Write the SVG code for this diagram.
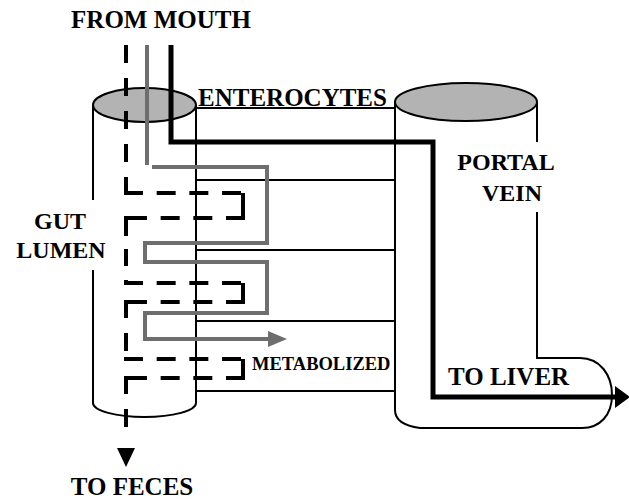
<svg xmlns="http://www.w3.org/2000/svg" width="629" height="499" viewBox="0 0 629 499">
<style>
  .wall { fill: none; stroke: #000; stroke-width: 2; }
  .cap { fill: #b3b3b3; stroke: #000; stroke-width: 2; }
  .lbl { font-family: "Liberation Serif", "Times New Roman", serif; font-weight: bold; fill: #000; }
  .dash { fill: none; stroke: #000; stroke-width: 4; }
  .dv { stroke-dasharray: 18 15; }
  .dh { stroke-dasharray: 19 13.67; }
  .gray { fill: none; stroke: #6e6e6e; stroke-width: 4; }
  .thick { fill: none; stroke: #000; stroke-width: 5; }
</style>
<rect width="629" height="499" fill="#fff"/>

<g id="gut-lumen">
  <path class="wall" d="M93,105 V200 M93,270 V403 A51.5 14 0 0 0 196,403 V105"/>
  <ellipse class="cap" cx="144.5" cy="105" rx="51.5" ry="17"/>
  <text class="lbl" font-size="24" x="60" y="229" text-anchor="middle">GUT</text>
  <text class="lbl" font-size="24" x="61" y="258" text-anchor="middle">LUMEN</text>
</g>

<g id="enterocytes">
  <path class="wall" d="M196,108 H395 M196,180 H395 M196,250 H395 M196,321 H395 M196,391 H395"/>
  <text class="lbl" font-size="25" x="198" y="106">ENTEROCYTES</text>
</g>

<g id="portal-vein">
  <path class="wall" d="M537,102 V142 M537,212 V358 H580 C600,358 612,375 612,395 C612,415 600,428 582,428 H420 C405,426 395,420 395,410 V102"/>
  <ellipse class="cap" cx="466" cy="102" rx="71" ry="19"/>
  <text class="lbl" font-size="24" x="506" y="170" text-anchor="middle">PORTAL</text>
  <text class="lbl" font-size="24" x="512" y="201" text-anchor="middle">VEIN</text>
</g>

<g id="labels">
  <text class="lbl" font-size="25" x="161" y="28" text-anchor="middle">FROM MOUTH</text>
  <text class="lbl" font-size="18.5" x="252" y="370">METABOLIZED</text>
  <text class="lbl" font-size="25" x="448" y="385">TO LIVER</text>
  <text class="lbl" font-size="25" x="132" y="495" text-anchor="middle">TO FECES</text>
</g>

<g id="connectors">
  <path class="gray" d="M147,45 V165 M152,167 H267 V243 H145 V262 H267 V313 H145 V339 H270"/>
  <polygon points="268,331 287,339 268,347" fill="#6e6e6e"/>
  <g id="dashed-path">
    <path class="dash dv" d="M126,45 V195"/>
    <path class="dash dh" d="M124,193 H245"/>
    <path class="dash" d="M243,193 V218"/>
    <path class="dash dh" d="M245,218 H124"/>
    <path class="dash" d="M126,216 V236 M126,249 V266 M126,280 V285" />
    <path class="dash dh" d="M124,283 H245"/>
    <path class="dash" d="M243,283 V302"/>
    <path class="dash dh" d="M245,302 H124"/>
    <path class="dash dv" d="M126,300 V359"/>
    <path class="dash dh" d="M124,359 H245"/>
    <path class="dash" d="M243,359 V378"/>
    <path class="dash dh" d="M245,378 H124"/>
    <path class="dash dv" d="M126,376 V430"/>
  </g>
  <polygon points="117,448 135,448 126,467" fill="#000"/>
  <path class="thick" d="M171,45 V142 H433 V397 H618"/>
  <polygon points="615,386 630,397 615,408" fill="#000"/>
</g>
</svg>
